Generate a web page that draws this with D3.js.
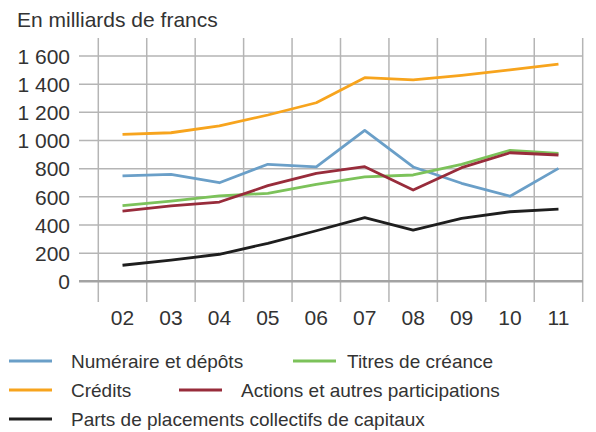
<!DOCTYPE html>
<html><head><meta charset="utf-8">
<script src="https://cdn.jsdelivr.net/npm/d3@7"></script>
<style>body{margin:0;background:#fff}svg{display:block}text{font-family:"Liberation Sans",Arial,sans-serif;fill:#333}</style>
</head><body><svg id="c" width="596" height="432"></svg>
<script>
const years = ["02","03","04","05","06","07","08","09","10","11"];
const yTicks = [0,200,400,600,800,1000,1200,1400,1600];
const yTickLabels = ["0","200","400","600","800","1 000","1 200","1 400","1 600"];
const numeraire = [748,760,700,831,812,1072,812,696,604,802];
const credits = [1044,1055,1103,1181,1268,1446,1430,1463,1501,1543];
const titres = [537,570,606,625,689,741,755,831,930,909];
const actions = [499,535,563,679,767,814,648,807,913,897];
const parts = [114,151,192,270,359,452,364,447,494,513];
const seriesNames = ["Numéraire et dépôts","Titres de créance","Crédits","Actions et autres participations","Parts de placements collectifs de capitaux"];
const seriesColors = ["#6a9fc8","#7cc25a","#f7a41d","#982c3b","#1e1e1e"];
const seriesData = [numeraire, titres, credits, actions, parts];

const svg = d3.select("#c");
const x = d3.scaleBand().domain(years).range([98.3,582.7]).padding(0);
const y = d3.scaleLinear().domain([0,1600]).range([281.3,56]);

svg.append("text").attr("x",17).attr("y",27).style("font-size","21px").text("En milliards de francs");

// vertical grid at band boundaries
const bounds = years.map(d=>x(d)).concat([x(years[years.length-1])+x.bandwidth()]);
svg.append("g").selectAll("line").data(bounds).join("line")
  .attr("x1",d=>d).attr("x2",d=>d).attr("y1",38).attr("y2",302)
  .attr("stroke","#b5b5b5").attr("stroke-width",1.5);

// horizontal grid
svg.append("g").selectAll("line").data(yTicks).join("line")
  .attr("x1",79).attr("x2",583).attr("y1",d=>y(d)).attr("y2",d=>y(d))
  .attr("stroke",d=>d===0?"#a3a3a3":"#b5b5b5").attr("stroke-width",d=>d===0?2.5:1.5);

svg.append("g").selectAll("text").data(yTicks).join("text")
  .attr("x",70).attr("y",d=>y(d)+7.7).attr("text-anchor","end").style("font-size","21px")
  .text((d,i)=>yTickLabels[i]);

svg.append("g").selectAll("text").data(years).join("text")
  .attr("x",d=>x(d)+x.bandwidth()/2).attr("y",325).attr("text-anchor","middle").style("font-size","21px")
  .text(d=>d);

const line = d3.line().x((d,i)=>x(years[i])+x.bandwidth()/2).y(d=>y(d));
const order = [2,0,1,3,4];
svg.append("g").selectAll("path").data(order).join("path")
  .attr("d",i=>line(seriesData[i])).attr("fill","none")
  .attr("stroke",i=>seriesColors[i]).attr("stroke-width",2.8).attr("stroke-linejoin","round");

// legend
const legPos = [[9,361],[293,361],[9,390],[179,390],[9,419]];
const lg = svg.append("g").selectAll("g").data(seriesNames).join("g")
  .attr("transform",(d,i)=>`translate(${legPos[i][0]},${legPos[i][1]})`);
lg.append("line").attr("x1",0).attr("x2",43).attr("stroke",(d,i)=>seriesColors[i]).attr("stroke-width",2.8);
lg.append("text").attr("x",(d,i)=>i===1?54:62).attr("y",6.5).style("font-size","19px").text(d=>d);
</script></body></html>
